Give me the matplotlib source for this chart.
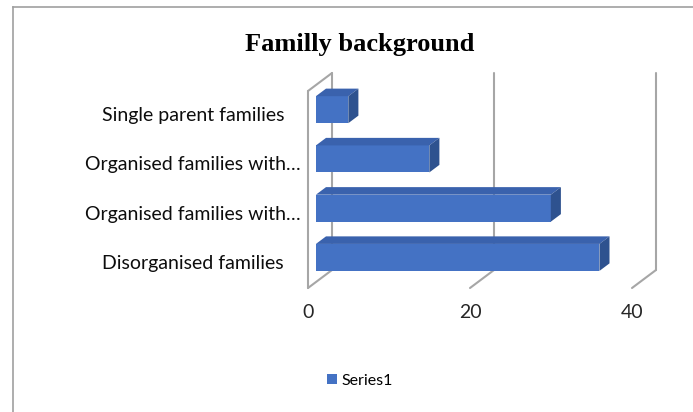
import numpy as np
import matplotlib
matplotlib.use("Agg")
import matplotlib.pyplot as plt
from matplotlib.patches import Polygon
from matplotlib.lines import Line2D
from matplotlib.transforms import blended_transform_factory

# data
categories = ["Disorganised families", "Organised families with\u2026",
              "Organised families with\u2026", "Single parent families"]
values = [35, 29, 14, 4]
xticks = [0, 20, 40]
series_name = "Series1"

W, H = 693, 412
fig = plt.figure(figsize=(W / 100, H / 100), dpi=100)

# front plane of the 3d box: x 0..40 -> px 308..632, y -0.5..3.5 -> px 288..91
x0, x1 = 308, 632
ytop, ybot = 91, 288
ax = fig.add_axes([x0 / W, 1 - ybot / H, (x1 - x0) / W, (ybot - ytop) / H])
ax.set_xlim(0, 40)
ax.set_ylim(-0.5, 3.5)

px_x = 40 / (x1 - x0)          # value units per pixel
px_y = 4 / (ybot - ytop)       # category units per pixel
depth_dx = 24 * px_x
depth_dy = 18 * px_y


def shift(d):
    return d * depth_dx, d * depth_dy


wall = dict(color="#a6a6a6", lw=1.5, solid_capstyle="round", clip_on=False, zorder=1)

# left wall
bx, by = shift(1)
ax.plot([0, 0], [-0.5, 3.5], **wall)
ax.plot([bx, bx], [-0.5 + by, 3.5 + by], **wall)
ax.plot([0, bx], [3.5, 3.5 + by], **wall)
ax.plot([0, bx], [-0.5, -0.5 + by], **wall)
# gridlines on back wall + floor
for t in xticks[1:]:
    ax.plot([t + bx, t + bx], [-0.5 + by, 3.5 + by], **wall)
    ax.plot([t, t + bx], [-0.5, -0.5 + by], **wall)

# bars
front_col, top_col, side_col = "#4472c4", "#3a62ad", "#2e528f"
bar_h = 27 * px_y
fdx, fdy = shift(0.33)
rdx, rdy = shift(0.75)
ddx, ddy = rdx - fdx, rdy - fdy
ypos = np.arange(len(categories))
ax.barh(ypos + fdy, values, height=bar_h, left=fdx, color=front_col,
        clip_on=False, zorder=3, label=series_name)
for y, v in zip(ypos + fdy, values):
    xl, xr = fdx, fdx + v
    yt, yb = y + bar_h / 2, y - bar_h / 2
    ax.add_patch(Polygon([(xl, yt), (xr, yt), (xr + ddx, yt + ddy), (xl + ddx, yt + ddy)],
                         closed=True, fc=top_col, ec="none", clip_on=False, zorder=3))
    ax.add_patch(Polygon([(xr, yb), (xr, yt), (xr + ddx, yt + ddy), (xr + ddx, yb + ddy)],
                         closed=True, fc=side_col, ec="none", clip_on=False, zorder=3))

ax.axis("off")

lab_font = "Lato"
# x tick labels
for t in xticks:
    ax.text(t, -0.5 - 25 * px_y, str(t), ha="center", va="center",
            fontsize=14, family=lab_font, color="#262626")
# category labels (on the front plane)
tr = blended_transform_factory(fig.transFigure, ax.transData)
for y, c in zip(ypos, categories):
    ax.text(193 / W, y, c, transform=tr, ha="center", va="center",
            fontsize=14, family=lab_font, color="#0d0d0d")

fig.text(360 / W, 1 - 45 / H, "Familly background", ha="center", va="center",
         fontsize=19, fontweight="bold", family="Liberation Serif")

# legend
fig.legend(loc="center", bbox_to_anchor=(360 / W, 1 - 381 / H), frameon=False,
           prop={"family": lab_font, "size": 11.5}, handlelength=0.6, handleheight=0.6,
           handletextpad=0.3)

# chart frame (top and left edges only are visible)
fig.add_artist(Line2D([13 / W, 1], [1 - 7 / H, 1 - 7 / H], transform=fig.transFigure,
                      color="#a0a0a0", lw=1.2))
fig.add_artist(Line2D([13 / W, 13 / W], [0, 1 - 7 / H], transform=fig.transFigure,
                      color="#a0a0a0", lw=1.2))

fig.savefig("out.png", dpi=100, facecolor="white")
